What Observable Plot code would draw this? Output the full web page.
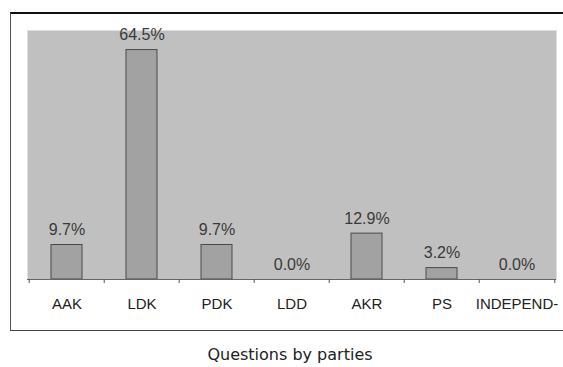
<!DOCTYPE html>
<html><head><meta charset="utf-8">
<script src="https://cdn.jsdelivr.net/npm/d3@7"></script>
<script src="https://cdn.jsdelivr.net/npm/@observablehq/plot@0.6"></script>
<style>
body{margin:0;background:#fff;}
#wrap{position:relative;width:563px;height:367px;overflow:hidden;}
#box{position:absolute;left:10px;top:12px;width:600px;height:316px;border-top:2px solid #111;border-left:1px solid #555;border-bottom:1px solid #444;pointer-events:none;}
#title{position:absolute;left:0;width:580px;top:346px;text-align:center;font-family:'DejaVu Sans',sans-serif;font-size:16px;line-height:18px;color:#222;}
</style></head><body>
<div id="wrap"><div id="chart"></div><div id="box"></div><div id="title">Questions by parties</div></div>
<script>
const parties = ["AAK","LDK","PDK","LDD","AKR","PS","INDEPEND-"];
const shares = [9.7,64.5,9.7,0.0,12.9,3.2,0.0];
const labels = ["9.7%","64.5%","9.7%","0.0%","12.9%","3.2%","0.0%"];
const yMax = 70;
const data = parties.map((p,i)=>({party:p, share:shares[i], label:labels[i]}));
const step = (563-27-7)/parties.length;
const chart = Plot.plot({
  width:563, height:335, marginLeft:27, marginRight:7, marginTop:30, marginBottom:56,
  style:{background:"transparent", fontFamily:"'Liberation Sans', Arial, sans-serif"},
  x:{domain:parties, paddingInner:0.59, paddingOuter:0.295, axis:null},
  y:{domain:[0,yMax], axis:null},
  marks:[
    Plot.frame({fill:"#c0c0c0", stroke:null}),
    Plot.barY(data,{x:"party", y:"share", fill:"#a2a2a2", stroke:"#4a4a4a", strokeWidth:1}),
    Plot.ruleY([0],{stroke:"#666"}),
    Plot.ruleX(parties,{x:d=>d, y1:0, y2:0, insetBottom:-4, dx:-step/2, stroke:"#555"}),
    Plot.ruleX([parties[parties.length-1]],{x:d=>d, y1:0, y2:0, insetBottom:-4, dx:step/2, stroke:"#555"}),
    Plot.text(data,{x:"party", y:"share", text:"label", dy:-10, lineAnchor:"bottom", fontSize:16, fill:"#3a3a3a"}),
    Plot.text(parties,{x:d=>d, frameAnchor:"bottom", dy:25, lineAnchor:"middle", fontSize:15, fill:"#222", text:d=>d})
  ]
});
document.getElementById("chart").appendChild(chart);
</script>
</body></html>
